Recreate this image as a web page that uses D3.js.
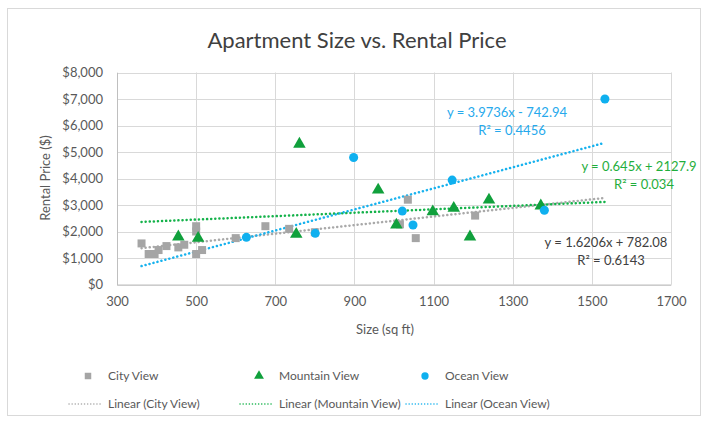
<!DOCTYPE html>
<html>
<head>
<meta charset="utf-8">
<script src="https://cdn.jsdelivr.net/npm/d3@7"></script>
<style>
  body { margin: 0; background: #fff; }
  svg { font-family: Lato, "Open Sans", sans-serif; }
</style>
</head>
<body>
<div id="chart"></div>
<script>
// data
const seriesNames = ['City View', 'Mountain View', 'Ocean View'];

const citySize  = [362, 380, 395, 405, 425, 455, 470, 500, 500, 500, 515, 600, 675, 735, 800, 1015, 1035, 1055, 1205];
const cityPrice = [1550, 1150, 1150, 1300, 1450, 1400, 1500, 2200, 2000, 1150, 1300, 1750, 2200, 2100, 1970, 2270, 3200, 1750, 2600];

const mountainSize  = [455, 505, 761, 753, 960, 1006, 1098, 1151, 1192, 1240, 1371];
const mountainPrice = [1800, 1750, 5300, 1900, 3570, 2250, 2750, 2880, 1800, 3190, 2970];

const oceanSize  = [627, 801, 898, 1021, 1048, 1147, 1380, 1533];
const oceanPrice = [1780, 1930, 4790, 2770, 2245, 3940, 2800, 7000];

// trendline coefficients as printed on the chart
const slopes     = [1.6206, 0.645, 3.9736];
const intercepts = [782.08, 2127.9, -742.94];
const eqLabels   = ['y = 1.6206x + 782.08', 'y = 0.645x + 2127.9', 'y = 3.9736x - 742.94'];
const r2Labels   = ['R² = 0.6143', 'R² = 0.034', 'R² = 0.4456'];

const xTicks = [300, 500, 700, 900, 1100, 1300, 1500, 1700];
const yTicks = [0, 1000, 2000, 3000, 4000, 5000, 6000, 7000, 8000];

const width = 709, height = 423;
const colors = ['#a5a5a5', '#10a03c', '#0fb0ef'];
const lineColors = ['#a9a9a9', '#14b24a', '#18b2ee'];
const labelColors = ['#404040', '#1fae3c', '#26a9ec'];

const svg = d3.select('#chart').append('svg')
  .attr('width', width).attr('height', height);

// outer frame
svg.append('rect')
  .attr('x', 7.5).attr('y', 8.5)
  .attr('width', 693).attr('height', 407)
  .attr('fill', '#fff').attr('stroke', '#d9d9d9');

const x = d3.scaleLinear().domain([300, 1700]).range([117, 671]);
const y = d3.scaleLinear().domain([0, 8000]).range([284.5, 72.5]);

// gridlines
const grid = svg.append('g');
grid.selectAll('line.h').data(yTicks).enter().append('line')
  .attr('x1', x(300)).attr('x2', x(1700))
  .attr('y1', d => Math.round(y(d)) + 0.5).attr('y2', d => Math.round(y(d)) + 0.5)
  .attr('stroke', '#d9d9d9');
grid.selectAll('line.v').data(xTicks).enter().append('line')
  .attr('y1', y(0)).attr('y2', y(8000))
  .attr('x1', d => Math.round(x(d)) + 0.5).attr('x2', d => Math.round(x(d)) + 0.5)
  .attr('stroke', '#d9d9d9');

// axes
const xAxis = d3.axisBottom(x).tickValues(xTicks).tickSize(0).tickPadding(12)
  .tickFormat(d3.format('d'));
const yAxis = d3.axisLeft(y).tickValues(yTicks).tickSize(0).tickPadding(14)
  .tickFormat(d => '$' + d3.format(',')(d));

const gx = svg.append('g').attr('transform', 'translate(0,' + y(0) + ')').call(xAxis);
const gy = svg.append('g').attr('transform', 'translate(' + x(300) + ',0)').call(yAxis);
[gx, gy].forEach(function(g) {
  g.select('.domain').attr('stroke', '#bfbfbf');
  g.selectAll('text').attr('fill', '#595959').style('font-size', '13px')
    .style('font-family', 'Lato, sans-serif');
});

// title and axis titles
svg.append('text')
  .attr('x', 357).attr('y', 48)
  .attr('text-anchor', 'middle')
  .attr('fill', '#404040').style('font-size', '22px')
  .text('Apartment Size vs. Rental Price');

svg.append('text')
  .attr('transform', 'translate(50,178) rotate(-90)')
  .attr('text-anchor', 'middle')
  .attr('fill', '#595959').style('font-size', '13px')
  .text('Rental Price ($)');

svg.append('text')
  .attr('x', 385).attr('y', 334)
  .attr('text-anchor', 'middle')
  .attr('fill', '#595959').style('font-size', '13px')
  .text('Size (sq ft)');

// trendlines span the whole range of sizes
const sizes = [citySize, mountainSize, oceanSize];
const prices = [cityPrice, mountainPrice, oceanPrice];
const allSizes = d3.merge(sizes);
const xMin = d3.min(allSizes), xMax = d3.max(allSizes);

const line = d3.line().x(d => x(d[0])).y(d => y(d[1]));
const trend = svg.append('g');
slopes.forEach(function(m, i) {
  const b = intercepts[i];
  trend.append('path')
    .attr('d', line([[xMin, m * xMin + b], [xMax, m * xMax + b]]))
    .attr('fill', 'none')
    .attr('stroke', lineColors[i])
    .attr('stroke-width', 2.5)
    .attr('stroke-dasharray', '0.1,4')
    .attr('stroke-linecap', 'round');
});

// markers
const symbols = [d3.symbolSquare, d3.symbolTriangle, d3.symbolCircle];
const symSizes = [64, 68, 64];
const markers = svg.append('g');
sizes.forEach(function(xs, i) {
  const pts = xs.map((s, j) => [s, prices[i][j]]);
  markers.selectAll('path.s' + i).data(pts).enter().append('path')
    .attr('class', 's' + i)
    .attr('d', d3.symbol().type(symbols[i]).size(symSizes[i]))
    .attr('transform', d => 'translate(' + x(d[0]) + ',' + y(d[1]) + ')')
    .attr('fill', colors[i]);
});

// equation labels
const labelPos = [[606, 247], [639, 171], [507, 117]];
const labels = svg.append('g').style('font-size', '13px');
labelPos.forEach(function(p, i) {
  const t = labels.append('text')
    .attr('x', p[0]).attr('y', p[1])
    .attr('text-anchor', 'middle')
    .attr('fill', labelColors[i]);
  t.append('tspan').attr('x', p[0]).text(eqLabels[i]);
  t.append('tspan').attr('x', p[0] + 5).attr('dy', 18).text(r2Labels[i]);
});

// legend: two rows, columns shared by marker and trendline entries
const legend = svg.append('g').style('font-size', '12px');
const legendX = [88, 259, 425];
seriesNames.forEach(function(name, i) {
  const cx = legendX[i];
  legend.append('path')
    .attr('d', d3.symbol().type(symbols[i]).size(42))
    .attr('transform', 'translate(' + cx + ',376)')
    .attr('fill', colors[i]);
  legend.append('text')
    .attr('x', cx + 20).attr('y', 380)
    .attr('fill', '#595959').text(name);

  legend.append('line')
    .attr('x1', cx - 19).attr('x2', cx + 15)
    .attr('y1', 404).attr('y2', 404)
    .attr('stroke', lineColors[i]).attr('stroke-width', 1.5)
    .attr('stroke-dasharray', '0.1,3').attr('stroke-linecap', 'round');
  legend.append('text')
    .attr('x', cx + 20).attr('y', 408)
    .attr('fill', '#595959').text('Linear (' + name + ')');
});
</script>
</body>
</html>
